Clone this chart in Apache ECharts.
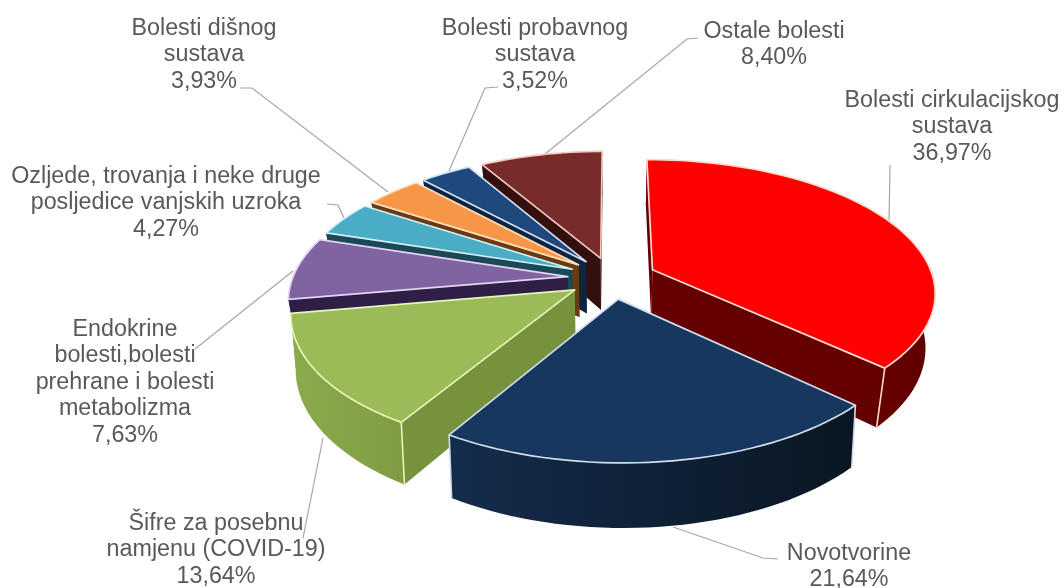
<!DOCTYPE html>
<html style="height: 100%">
<head>
<meta charset="utf-8">
<title>Bolesti</title>
<script src="https://cdn.jsdelivr.net/npm/echarts@6/dist/echarts.min.js"></script>
</head>
<body style="height: 100%; margin: 0; background: #fff">
<div id="main" style="width: 1064px; height: 588px; filter: blur(0.4px)"></div>
<script type="text/javascript">
// podaci, redom kazaljke na satu od vrha
var categories = [
	'Bolesti cirkulacijskog\nsustava',
	'Novotvorine',
	'Šifre za posebnu\nnamjenu (COVID-19)',
	'Endokrine\nbolesti,bolesti\nprehrane i bolesti\nmetabolizma',
	'Ozljede, trovanja i neke druge\nposljedice vanjskih uzroka',
	'Bolesti dišnog\nsustava',
	'Bolesti probavnog\nsustava',
	'Ostale bolesti'
];
var shares = [36.97, 21.64, 13.64, 7.63, 4.27, 3.93, 3.52, 8.40];

// boje: gornja ploha, rez, vanjski zid (lijevo -> desno), rub
var topColors = ['#ff0000', '#17375e', '#9bbb59', '#8064a2', '#4bacc6', '#f79646', '#1f497d', '#772c2a'];
var cutColors = ['#640000', '#0d2038', '#76923c', '#2f1f47', '#1c4956', '#6b3a10', '#0f2440', '#330f0e'];
var wallLeft = ['#7a0000', '#142c4c', '#8bab4c', '#2f1f47', '#1c4956', '#6b3a10', '#0f2440', '#330f0e'];
var wallRight = ['#600000', '#0a1622', '#7f9c42', '#2f1f47', '#1c4956', '#6b3a10', '#0f2440', '#330f0e'];
var edgeColors = ['#ffd8d0', '#cfdcec', '#e6f5b8', '#e4d4f2', '#d4f2fa', '#ffe2c4', '#d2e0f0', '#f5c8c0'];

// mjesta natpisa i linija
var labelX = [952, 849, 216, 125, 166, 204, 535, 774];
var labelY = [87, 540, 510, 316, 163, 15, 15, 18];
var leaders = [
	[[890, 165], [889, 222]],
	[[673, 527], [763, 558], [778, 559]],
	[[323, 438], [303, 538]],
	[[293, 271], [195, 349]],
	[[327, 204], [338, 205], [344, 218]],
	[[240, 88], [252, 88], [388, 192]],
	[[498, 87], [485, 88], [449, 171]],
	[[545, 154], [687, 39], [698, 38]]
];

var cx = 612, cy = 278, radiusX = 278, radiusY = 130;
var persp = 0.16, perspSide = 0.008, depth = 53, explode = 0.16;
var shrinkFront = 0.985, shrinkBack = 0.97;

function rad(a) { return a * Math.PI / 180; }

// kutovi kriski iz udjela
var total = 0;
for (var n = 0; n < shares.length; n++) total += shares[n];
var slices = [];
var run = 0;
for (var i = 0; i < shares.length; i++) {
	var a0 = run / total * 360;
	run += shares[i];
	var a1 = run / total * 360;
	slices.push({ idx: i, a0: a0, a1: a1, mid: (a0 + a1) / 2 });
}
// crta se od straga prema naprijed
slices.sort(function (p, q) { return Math.cos(rad(q.mid)) - Math.cos(rad(p.mid)); });

function project(s, angle, r, bottom) {
	var X = r * Math.sin(rad(angle)) + explode * Math.sin(rad(s.mid));
	var Z = r * Math.cos(rad(angle)) + explode * Math.cos(rad(s.mid));
	var p = 1 / (1 + persp * Z - perspSide * X);
	var px = X * radiusX * p;
	var py = -Z * radiusY * p;
	var shrink = Math.cos(rad(s.mid)) > 0 ? shrinkBack : shrinkFront;
	if (bottom) return [cx + px * shrink, cy + py + depth * p];
	return [cx + px, cy + py];
}

function arcPoints(s, bottom) {
	var pts = [];
	var steps = Math.ceil((s.a1 - s.a0) / 2);
	for (var k = 0; k <= steps; k++) {
		pts.push(project(s, s.a0 + (s.a1 - s.a0) * k / steps, 1, bottom));
	}
	return pts;
}

function renderSlice(params, api) {
	var s = slices[params.dataIndex];
	var i = s.idx;
	var tipT = project(s, 0, 0, false);
	var tipB = project(s, 0, 0, true);
	var topArc = arcPoints(s, false);
	var botArc = arcPoints(s, true);
	var first = 0, last = topArc.length - 1;
	var children = [];
	var pct = shares[i].toFixed(2).replace('.', ',') + '%';

	children.push({
		type: 'polyline',
		shape: { points: leaders[i] },
		style: { stroke: '#a6a6a6', lineWidth: 1.2, fill: null }
	});
	// rezovi
	children.push({
		type: 'polygon',
		shape: { points: [tipT, topArc[first], botArc[first], tipB] },
		style: { fill: cutColors[i] }
	});
	children.push({
		type: 'polygon',
		shape: { points: [tipT, topArc[last], botArc[last], tipB] },
		style: { fill: cutColors[i] }
	});
	// vanjski zid
	children.push({
		type: 'polygon',
		shape: { points: topArc.concat(botArc.slice().reverse()) },
		style: {
			fill: new echarts.graphic.LinearGradient(0, 0, 1, 0, [
				{ offset: 0, color: wallLeft[i] },
				{ offset: 1, color: wallRight[i] }
			])
		}
	});
	// okomiti rubovi, samo sprijeda
	if (Math.cos(rad(s.a0)) < -0.3) {
		children.push({
			type: 'line',
			shape: { x1: topArc[first][0], y1: topArc[first][1], x2: botArc[first][0], y2: botArc[first][1] },
			style: { stroke: edgeColors[i], lineWidth: 1.6 }
		});
	}
	if (Math.cos(rad(s.a1)) < -0.3) {
		children.push({
			type: 'line',
			shape: { x1: topArc[last][0], y1: topArc[last][1], x2: botArc[last][0], y2: botArc[last][1] },
			style: { stroke: edgeColors[i], lineWidth: 1.6 }
		});
	}
	// gornja ploha
	children.push({
		type: 'polygon',
		shape: { points: [tipT].concat(topArc) },
		style: { fill: topColors[i], stroke: edgeColors[i], lineWidth: 1.7, lineJoin: 'round' }
	});
	children.push({
		type: 'text',
		x: labelX[i],
		y: labelY[i],
		style: {
			text: categories[i] + '\n' + pct,
			fontFamily: 'Liberation Sans',
			fontSize: 23.3,
			lineHeight: 26.5,
			fill: '#595959',
			align: 'center',
			verticalAlign: 'top'
		}
	});
	return { type: 'group', children: children };
}

var myChart = echarts.init(document.getElementById('main'));
var seriesData = [];
for (var j = 0; j < slices.length; j++) seriesData.push(shares[slices[j].idx]);
myChart.setOption({
	backgroundColor: '#ffffff',
	animation: false,
	series: [{
		type: 'custom',
		coordinateSystem: 'none',
		silent: true,
		renderItem: renderSlice,
		data: seriesData
	}]
});
</script>
</body>
</html>
